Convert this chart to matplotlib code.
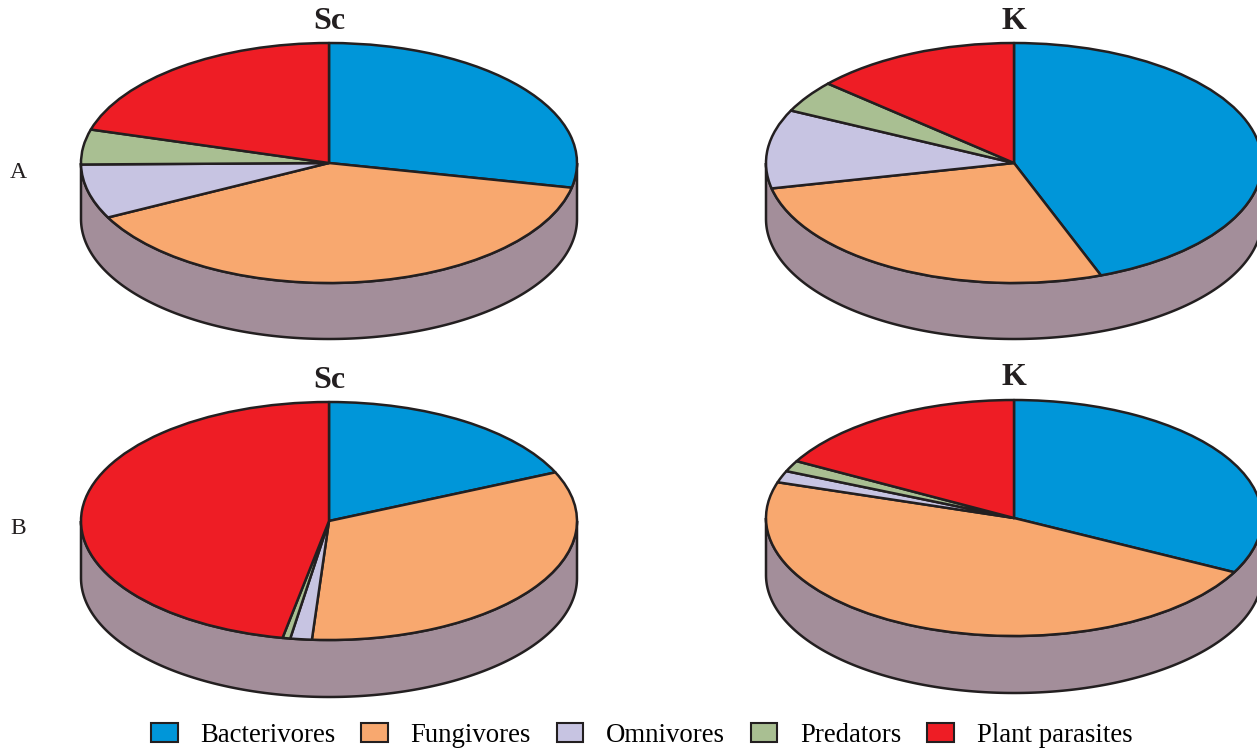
import numpy as np
import matplotlib
matplotlib.use("Agg")
import matplotlib.pyplot as plt
from matplotlib.patches import Wedge, Polygon, Patch
from matplotlib.transforms import Affine2D

# Feeding-group composition (%), slices run clockwise from 12 o'clock
groups = ["Bacterivores", "Fungivores", "Omnivores", "Predators", "Plant parasites"]
colors = ["#0096D9", "#F8A86F", "#C7C4E2", "#A9BF92", "#EE1D25"]

sc_a = [28.3, 39.2, 7.3, 4.7, 20.5]
k_a = [44.3, 27.3, 10.6, 4.3, 13.5]
sc_b = [18.3, 32.8, 1.4, 0.5, 47.0]
k_b = [32.6, 47.3, 1.6, 1.5, 17.0]

site_titles = ["Sc", "K", "Sc", "K"]
row_labels = ["A", "B"]

W, H = 1257, 748
EDGE = "#231F20"
SIDE = "#A38E9A"
LW = 1.8

fig = plt.figure(figsize=(W / 100, H / 100), dpi=100)
ax = fig.add_axes([0, 0, 1, 1])
ax.set_xlim(0, W)
ax.set_ylim(H, 0)
ax.axis("off")


def pie3d(values, cx, cy, rx, ry, depth):
    tr = Affine2D().scale(rx, -ry).translate(cx, cy) + ax.transData
    d = depth / ry
    # cylinder wall along the front half of the ellipse
    phi = np.linspace(np.pi, 2 * np.pi, 200)
    top = np.column_stack([np.cos(phi), np.sin(phi)])
    bot = np.column_stack([np.cos(phi[::-1]), np.sin(phi[::-1]) - d])
    ax.add_patch(Polygon(np.vstack([top, bot]), closed=True, transform=tr,
                         facecolor=SIDE, edgecolor=EDGE, lw=LW, zorder=1))
    # top face wedges
    vals = np.asarray(values, float)
    ang = np.concatenate([[0], np.cumsum(vals / vals.sum() * 360)])
    for i, c in enumerate(colors):
        ax.add_patch(Wedge((0, 0), 1, 90 - ang[i + 1], 90 - ang[i],
                           transform=tr, facecolor=c, edgecolor=EDGE,
                           lw=LW, zorder=2, joinstyle="round"))


pie3d(sc_a, 329, 163, 248, 120, 56)
pie3d(k_a, 1014, 163, 248, 120, 56)
pie3d(sc_b, 329, 521, 248, 119, 57)
pie3d(k_b, 1014, 518, 248, 118, 57)

title_font = dict(family="Liberation Serif", fontweight="bold", fontsize=23,
                  color=EDGE, ha="center", va="center")
for (x, y), t in zip([(329, 21), (1014, 21), (329, 380), (1014, 377)], site_titles):
    ax.text(x, y, t, **title_font)

for (x, y), t in zip([(18, 172), (18, 528)], row_labels):
    ax.text(x, y, t, family="Liberation Serif", fontsize=17, color=EDGE,
            ha="center", va="center")

handles = [Patch(facecolor=c, edgecolor=EDGE, lw=1.5, label=g)
           for c, g in zip(colors, groups)]
fig.legend(handles=handles, loc="center", bbox_to_anchor=(641.5 / W, 1 - 735 / H),
           ncol=5, frameon=False, prop=dict(family="Liberation Serif", size=19.3),
           handlelength=1.0, handleheight=0.7, handletextpad=0.85,
           columnspacing=0.95, borderaxespad=0, borderpad=0)

fig.savefig("out.png", dpi=100)
